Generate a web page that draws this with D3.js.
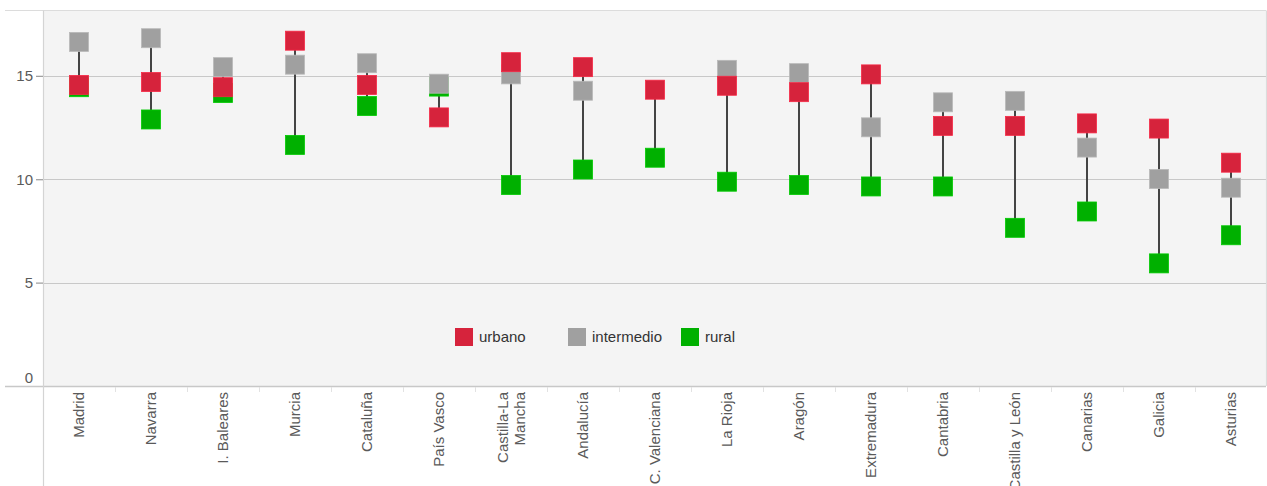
<!DOCTYPE html>
<html>
<head>
<meta charset="utf-8">
<script src="https://cdn.jsdelivr.net/npm/d3@7"></script>
<style>
html,body{margin:0;padding:0;background:#fff;overflow:hidden;}
svg{display:block;font-family:"Liberation Sans",Arial,sans-serif;}
</style>
</head>
<body>
<svg id="chart" width="1267" height="486"></svg>
<script>
const regions = ["Madrid","Navarra","I. Baleares","Murcia","Cataluña","País Vasco","Castilla-La Mancha","Andalucía","C. Valenciana","La Rioja","Aragón","Extremadura","Cantabria","Castilla y León","Canarias","Galicia","Asturias"];
const urbano     = [14.56,14.70,14.45,16.70,14.56,12.99,15.66,15.42,14.33,14.52,14.21,15.07,12.58,12.58,12.70,12.45,10.80];
const intermedio = [16.64,16.82,15.42,15.54,15.61,14.62,15.07,14.28,null,15.29,15.13,12.51,13.72,13.79,11.53,10.01,9.59];
const rural      = [14.45,12.89,14.17,11.66,13.54,14.48,9.72,10.47,11.04,9.88,9.72,9.65,9.65,7.65,8.44,5.93,7.29];
const seriesNames = ["urbano","intermedio","rural"];
const seriesColors = ["#d6233c","#a0a0a0","#00b000"];
const yTicks = [0,5,10,15];

(function () {
const svg = d3.select("#chart");
const mLeft = 43, mRight = 1266, mTop = 10.7, mBottom = 386;

const x = d3.scaleBand().domain(regions).range([mLeft, 1267]).padding(0);
const y = d3.scaleLinear().domain([0, 18.15]).range([mBottom, mTop]);

// plot background
svg.append("rect").attr("x", mLeft).attr("y", mTop).attr("width", mRight - mLeft).attr("height", mBottom - mTop).attr("fill", "#f4f4f4");

// gridlines
svg.append("g").selectAll("line").data(yTicks.filter(d => d > 0)).join("line")
  .attr("x1", mLeft).attr("x2", mRight)
  .attr("y1", d => Math.round(y(d)) + 0.5).attr("y2", d => Math.round(y(d)) + 0.5)
  .attr("stroke", "#c8c8c8").attr("stroke-width", 1.2);

// frame lines
svg.append("line").attr("x1", 5).attr("x2", mRight).attr("y1", 10.5).attr("y2", 10.5).attr("stroke", "#dcdcdc").attr("stroke-width", 1.2);
svg.append("line").attr("x1", mRight + 0.5).attr("x2", mRight + 0.5).attr("y1", 10.5).attr("y2", mBottom).attr("stroke", "#dcdcdc").attr("stroke-width", 1.2);
svg.append("line").attr("x1", 5).attr("x2", mRight).attr("y1", mBottom + 0.5).attr("y2", mBottom + 0.5).attr("stroke", "#c8c8c8").attr("stroke-width", 1.4);
svg.append("line").attr("x1", mLeft + 0.5).attr("x2", mLeft + 0.5).attr("y1", 10.5).attr("y2", 486).attr("stroke", "#d4d4d4").attr("stroke-width", 1.2);

// y axis
const yAxis = svg.append("g").attr("transform", `translate(${mLeft},0)`)
  .call(d3.axisLeft(y).tickValues(yTicks).tickSize(7).tickPadding(3).tickFormat(d3.format("d")));
yAxis.select(".domain").remove();
yAxis.selectAll(".tick line").attr("stroke", "#9a9a9a").attr("stroke-width", 1.2)
  .attr("opacity", d => d === 0 ? 0 : 1);
yAxis.selectAll(".tick text").attr("fill", "#5a5a5a").style("font-size", "15px")
  .attr("font-family", "Liberation Sans, Arial, sans-serif")
  .attr("dy", d => d === 0 ? "-0.25em" : "0.32em")
  .attr("x", -10);

// x axis (band scale ticks as separators)
const xAxis = svg.append("g").attr("transform", `translate(0,${mBottom})`)
  .call(d3.axisBottom(x).tickSize(0).tickPadding(0));
xAxis.select(".domain").remove();
xAxis.selectAll(".tick text").remove();
svg.append("g").selectAll("line").data(regions.slice(1)).join("line")
  .attr("x1", d => Math.round(x(d)) + 0.5).attr("x2", d => Math.round(x(d)) + 0.5)
  .attr("y1", mBottom + 1).attr("y2", mBottom + 6)
  .attr("stroke", "#e2e2e2").attr("stroke-width", 1);

// x labels rotated
const labels = svg.append("g").selectAll("g").data(regions).join("g")
  .attr("transform", d => `translate(${x(d) + x.bandwidth() / 2},392) rotate(-90)`);
labels.each(function(d) {
  const g = d3.select(this);
  const lines = d === "Castilla-La Mancha" ? ["Castilla-La", "Mancha"] : [d];
  const lh = 16.6;
  const off = -(lines.length - 1) * lh / 2;
  lines.forEach((t, i) => {
    g.append("text").text(t)
      .attr("x", 0).attr("y", off + i * lh)
      .attr("dy", "0.35em")
      .attr("text-anchor", "end")
      .attr("fill", "#5a5a5a").style("font-size", "15px");
  });
});

// connecting lines
const idx = d3.range(regions.length);
svg.append("g").selectAll("line").data(idx).join("line")
  .attr("x1", i => x(regions[i]) + x.bandwidth() / 2)
  .attr("x2", i => x(regions[i]) + x.bandwidth() / 2)
  .attr("y1", i => y(d3.max([urbano[i], intermedio[i], rural[i]].filter(v => v != null))))
  .attr("y2", i => y(d3.min([urbano[i], intermedio[i], rural[i]].filter(v => v != null))))
  .attr("stroke", "#444").attr("stroke-width", 2);

// markers (rural, intermedio, then urbano on top)
const seriesData = [urbano, intermedio, rural];
const ms = 19;
[2, 1, 0].forEach(s => {
  svg.append("g").selectAll("rect")
    .data(idx.filter(i => seriesData[s][i] != null)).join("rect")
    .attr("x", i => x(regions[i]) + x.bandwidth() / 2 - ms / 2)
    .attr("y", i => y(seriesData[s][i]) - ms / 2)
    .attr("width", ms).attr("height", ms)
    .attr("fill", seriesColors[s])
    .attr("stroke", d3.color(seriesColors[s]).brighter(0.4))
    .attr("stroke-width", 0.8);
});

// legend
const legX = [455, 568, 681];
const leg = svg.append("g").selectAll("g").data(seriesNames).join("g")
  .attr("transform", (d, i) => `translate(${legX[i]},328)`);
leg.append("rect").attr("width", 18).attr("height", 18)
  .attr("fill", (d, i) => seriesColors[i]);
leg.append("text").text(d => d).attr("x", 24).attr("y", 9).attr("dy", "0.35em")
  .attr("fill", "#333").style("font-size", "15px");
})();
</script>
</body>
</html>
